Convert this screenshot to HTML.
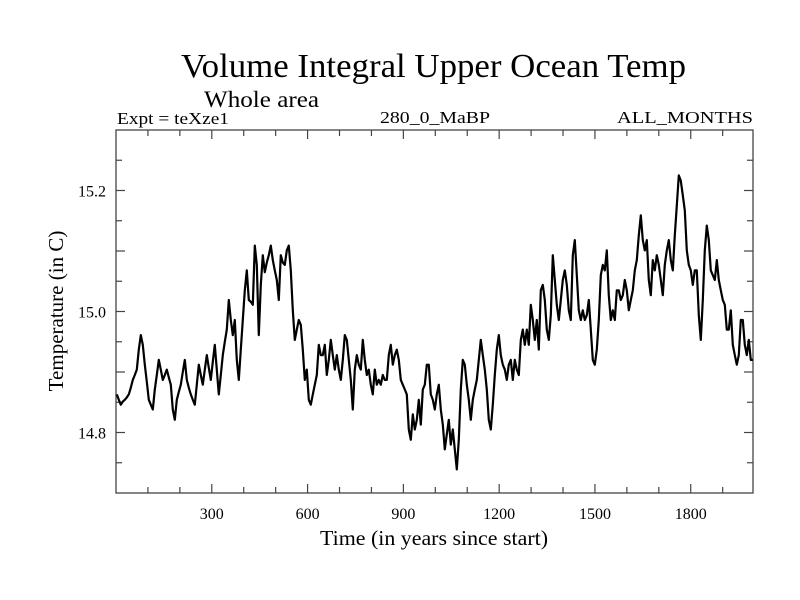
<!DOCTYPE html>
<html><head><meta charset="utf-8">
<style>
body{margin:0;background:#fff;}
svg{display:block;font-family:"Liberation Serif",serif;}
</style></head>
<body>
<svg id="chart" width="800" height="600" viewBox="0 0 800 600" xmlns="http://www.w3.org/2000/svg">
<rect width="800" height="600" fill="#fff"/>
<text x="181" y="77" font-size="34" textLength="505" lengthAdjust="spacingAndGlyphs">Volume Integral Upper Ocean Temp</text>
<text x="204" y="107" font-size="23" textLength="115" lengthAdjust="spacingAndGlyphs">Whole area</text>
<text x="117" y="124" font-size="17" textLength="112" lengthAdjust="spacingAndGlyphs">Expt = teXze1</text>
<text x="380" y="123" font-size="17" textLength="110" lengthAdjust="spacingAndGlyphs">280_0_MaBP</text>
<text x="617" y="123" font-size="17" textLength="136" lengthAdjust="spacingAndGlyphs">ALL_MONTHS</text>
<text x="320" y="545" font-size="21" textLength="228" lengthAdjust="spacingAndGlyphs">Time (in years since start)</text>
<text transform="translate(63,311) rotate(-90)" font-size="21" text-anchor="middle">Temperature (in C)</text>
<g id="axes"></g>
<g id="series"></g>
</svg>
<script>
const yearStart = 2.5;
const yearStep = 6.264;
const temps = [14.863,14.854,14.846,14.851,14.854,14.858,14.863,14.874,14.887,14.895,14.904,14.937,14.961,14.945,14.912,14.884,14.854,14.846,14.838,14.871,14.895,14.920,14.904,14.887,14.895,14.904,14.891,14.879,14.838,14.821,14.854,14.867,14.879,14.900,14.920,14.887,14.874,14.863,14.854,14.846,14.879,14.912,14.895,14.879,14.904,14.928,14.907,14.887,14.917,14.945,14.904,14.863,14.895,14.928,14.950,14.970,15.019,14.986,14.961,14.986,14.920,14.887,14.937,14.986,15.035,15.068,15.019,15.016,15.011,15.109,15.077,14.961,15.044,15.093,15.065,15.081,15.093,15.109,15.085,15.068,15.052,15.019,15.093,15.081,15.077,15.101,15.109,15.068,15.002,14.953,14.970,14.986,14.978,14.937,14.887,14.904,14.854,14.846,14.863,14.879,14.895,14.945,14.928,14.928,14.945,14.895,14.920,14.953,14.928,14.904,14.928,14.904,14.887,14.920,14.961,14.953,14.920,14.887,14.838,14.904,14.928,14.912,14.904,14.953,14.920,14.895,14.904,14.879,14.863,14.904,14.879,14.887,14.879,14.895,14.887,14.887,14.928,14.945,14.912,14.928,14.937,14.920,14.887,14.879,14.871,14.863,14.805,14.788,14.830,14.805,14.821,14.854,14.813,14.871,14.879,14.912,14.912,14.863,14.854,14.838,14.863,14.879,14.838,14.813,14.772,14.797,14.821,14.780,14.805,14.772,14.739,14.788,14.871,14.920,14.912,14.879,14.854,14.821,14.854,14.871,14.887,14.920,14.953,14.928,14.904,14.871,14.821,14.805,14.846,14.895,14.937,14.961,14.928,14.912,14.904,14.887,14.912,14.920,14.887,14.920,14.904,14.895,14.953,14.970,14.945,14.970,14.945,15.011,14.986,14.953,14.986,14.937,15.035,15.044,15.019,14.970,14.953,14.994,15.093,15.052,15.011,14.986,15.019,15.052,15.068,15.044,15.002,14.986,15.093,15.118,15.060,15.002,14.986,15.002,14.986,14.994,15.019,14.970,14.920,14.912,14.937,14.986,15.060,15.077,15.068,15.101,15.027,14.986,15.002,14.986,15.035,15.035,15.019,15.027,15.052,15.035,15.002,15.019,15.035,15.068,15.085,15.126,15.159,15.118,15.101,15.118,15.052,15.027,15.085,15.068,15.093,15.077,15.052,15.027,15.077,15.101,15.118,15.085,15.068,15.126,15.175,15.225,15.216,15.192,15.167,15.101,15.077,15.068,15.044,15.068,15.068,14.994,14.953,15.019,15.101,15.142,15.118,15.068,15.060,15.052,15.085,15.052,15.035,15.019,15.011,14.970,14.970,15.002,14.945,14.928,14.912,14.928,14.986,14.986,14.945,14.928,14.953,14.920,14.920];
const xTickLabels = [300,600,900,1200,1500,1800];
const yTickLabels = [14.8,15.0,15.2];

const L=116,R=753,T=130,B=493;
const xMin=0,xMax=1995,yMin=14.7,yMax=15.3;
const sx=v=>L+(v-xMin)/(xMax-xMin)*(R-L);
const sy=v=>B-(v-yMin)/(yMax-yMin)*(B-T);
const NS="http://www.w3.org/2000/svg";
const axes=document.getElementById('axes');
function mk(tag,attrs,parent){const e=document.createElementNS(NS,tag);for(const k in attrs)e.setAttribute(k,attrs[k]);parent.appendChild(e);return e;}
const frame=mk('rect',{x:L,y:T,width:R-L,height:B-T,fill:'none',stroke:'#444','stroke-width':1.3},axes);


for(let yr=100;yr<xMax;yr+=100){
  const x=sx(yr),len=(yr%300===0)?9:6;
  const t1=mk('line',{x1:x,y1:B,x2:x,y2:B-len,stroke:'#444','stroke-width':1.2},axes);
  
  
  const t2=mk('line',{x1:x,y1:T,x2:x,y2:T+len,stroke:'#444','stroke-width':1.2},axes);
  
  
}
for(let i=1;i<12;i++){
  const v=yMin+i*0.05,y=sy(v),len=(i%2===0)?9:6;
  const t1=mk('line',{x1:L,y1:y,x2:L+len,y2:y,stroke:'#444','stroke-width':1.2},axes);
  
  
  const t2=mk('line',{x1:R,y1:y,x2:R-len,y2:y,stroke:'#444','stroke-width':1.2},axes);
  
  
}
xTickLabels.forEach(v=>{
  const t=mk('text',{x:sx(v),y:B+26,'font-size':16,'text-anchor':'middle'},axes);
  t.textContent=v;
  
  
});
yTickLabels.forEach(v=>{
  const t=mk('text',{x:L-10,y:sy(v)+6,'font-size':16,'text-anchor':'end'},axes);
  t.textContent=v.toFixed(1);
  
  
});
const pts=temps.map((v,i)=>sx(yearStart+i*yearStep).toFixed(1)+','+sy(v).toFixed(1)).join(' ');
const line=mk('polyline',{points:pts,fill:'none',stroke:'#000','stroke-width':2.2,'stroke-linejoin':'round'},document.getElementById('series'));


</script>
</body></html>
